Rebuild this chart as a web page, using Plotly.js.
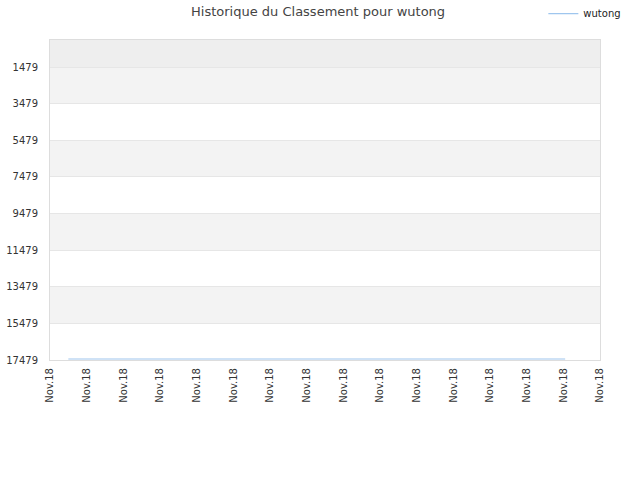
<!DOCTYPE html>
<html>
<head>
<meta charset="utf-8">
<script src="https://cdn.plot.ly/plotly-3.0.1.min.js"></script>
<style>
  html, body { margin: 0; padding: 0; background: #fff; }
  #chart { width: 640px; height: 480px; }
</style>
</head>
<body>
<div id="chart"></div>
<script>
// ticks on the x axis (all the same day)
let tickPos = [0, 1, 2, 3, 4, 5, 6, 7, 8, 9, 10, 11, 12, 13, 14, 15];
let tickText = ["Nov.18", "Nov.18", "Nov.18", "Nov.18", "Nov.18", "Nov.18", "Nov.18", "Nov.18",
    "Nov.18", "Nov.18", "Nov.18", "Nov.18", "Nov.18", "Nov.18", "Nov.18", "Nov.18"];

// rank history of wutong
let days = [0.5, 2.5, 4.5, 6.5, 8.5, 10.5, 12.5, 14.05];
let ranks = [17425, 17425, 17425, 17425, 17425, 17425, 17425, 17425];

let yTicks = [1479, 3479, 5479, 7479, 9479, 11479, 13479, 15479, 17479];
let yTop = 0;

let chart = document.getElementById("chart");

// alternating background bands between the y ticks
let shapes = [];
shapes.push({
    type: "rect", xref: "paper", yref: "y", layer: "below",
    x0: 0, x1: 1, y0: yTop, y1: yTicks[0],
    fillcolor: "#eeeeee", line: { width: 0 },
});
for (let i = 0; i < yTicks.length - 1; i++) {
    if (i % 2 === 0) {
        shapes.push({
            type: "rect", xref: "paper", yref: "y", layer: "below",
            x0: 0, x1: 1, y0: yTicks[i], y1: yTicks[i + 1],
            fillcolor: "#f3f3f3", line: { width: 0 },
        });
    }
}

let layout = {
    width: 640,
    height: 480,
    margin: { l: 50, r: 40, t: 40, b: 120, autoexpand: false },
    paper_bgcolor: "#ffffff",
    plot_bgcolor: "#ffffff",
    font: { family: "DejaVu Sans, sans-serif", size: 10, color: "#333" },
    title: {
        text: "Historique du Classement pour wutong",
        font: { size: 13, color: "#444" },
        x: 0.497, xanchor: "center",
        y: 0.977, yanchor: "middle",
    },
    showlegend: true,
    legend: {
        x: 0.897, xanchor: "left",
        y: 1.128, yanchor: "top",
        font: { size: 10, color: "#222" },
        bgcolor: "rgba(0,0,0,0)",
        itemwidth: 30,
    },
    xaxis: {
        range: [0, 15],
        tickvals: tickPos,
        ticktext: tickText,
        tickangle: -90,
        showgrid: false,
        zeroline: false,
        showline: true,
        linecolor: "#dddddd",
        mirror: true,
        ticks: "",
        ticklabelstandoff: 3,
        fixedrange: true,
    },
    yaxis: {
        range: [17479, yTop],
        tickvals: yTicks,
        ticktext: yTicks.map(String),
        showgrid: true,
        gridcolor: "#e6e6e6",
        zeroline: false,
        showline: true,
        linecolor: "#dddddd",
        mirror: true,
        ticks: "",
        ticklabelstandoff: 9,
        fixedrange: true,
    },
    shapes: shapes,
};

Plotly.newPlot(chart, [
    {
        x: days,
        y: ranks,
        type: "scatter",
        mode: "lines",
        name: "wutong",
        line: { color: "#9fc6ee", width: 1.2 },
    },
], layout, { displayModeBar: false, staticPlot: true });
</script>
</body>
</html>
